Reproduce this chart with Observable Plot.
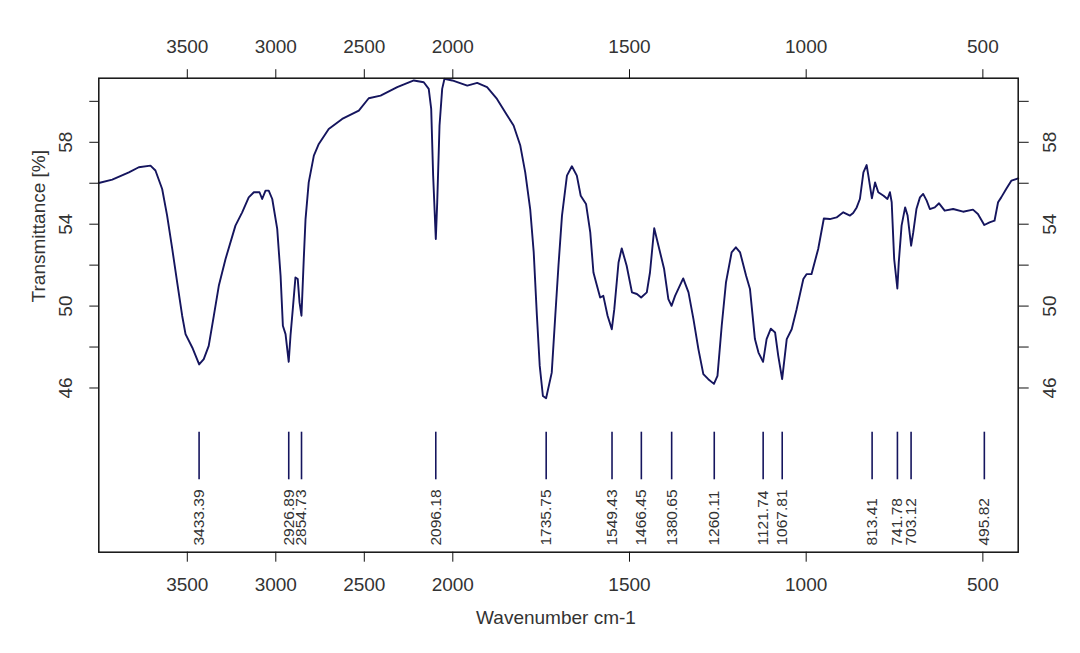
<!DOCTYPE html>
<html><head><meta charset="utf-8">
<script src="https://cdn.jsdelivr.net/npm/d3@7"></script>
<script src="https://cdn.jsdelivr.net/npm/@observablehq/plot@0.6"></script>
<style>body{margin:0;background:#fff;} svg{display:block;}</style>
</head><body><div id="chart"></div>
<script>
// Spectrum (wavenumber cm-1, transmittance %)
const wavenumber = [4000,3924,3830,3774,3708,3680,3642,3614,3585,3557,3529,3510,3472,3433,3407,3379,3350,3322,3284,3228,3190,3153,3124,3092,3077,3058,3040,3020,2992,2973,2960,2945,2927,2917,2904,2889,2876,2866,2855,2842,2832,2814,2785,2757,2701,2625,2531,2475,
  2408,2314,2220,2164,2136,2122,2111,2096,2088,2075,2060,2047,2003,1959,1931,1903,1875,1846,1828,1809,1795,1781,1771,1762,1754,1745,1736,1720,1710,1701,1691,1677,1663,1649,1638,1623,1611,1602,1592,1583,1574,1562,1550,1543,1531,1522,1508,1493,1479,1467,1451,1442,
  1430,1418,1402,1390,1381,1371,1348,1333,1319,1305,1291,1277,1261,1251,1239,1227,1211,1199,1187,1170,1159,1145,1135,1122,1112,1100,1088,1079,1068,1055,1041,1027,1008,999,985,966,950,933,914,895,876,867,857,848,838,829,824,814,805,796,781,770,763,758,751,742,738,730,720,713,703,697,688,678,669,659,650,636,624,608,584,556,528,514,496,481,467,457,448,434,419,400];
const transmittance = [56.01,56.18,56.53,56.78,56.86,56.62,55.72,54.42,52.79,51.15,49.53,48.63,47.98,47.15,47.41,48.06,49.53,50.99,52.30,53.93,54.58,55.31,55.56,55.56,55.23,55.64,55.64,55.23,53.77,51.48,49.04,48.63,47.28,48.55,49.85,51.40,51.32,50.18,49.53,52.30,54.25,56.04,57.35,57.92,58.65,59.14,59.55,60.15,
  60.28,60.69,61.02,60.93,60.61,59.63,56.37,53.28,55.07,58.82,60.61,61.10,61.02,60.77,60.90,60.69,60.12,59.31,58.82,57.84,56.53,54.74,52.62,49.53,47.08,45.61,45.50,46.75,49.53,51.97,54.42,56.37,56.83,56.37,55.39,54.99,53.60,51.64,50.99,50.42,50.50,49.53,48.87,49.85,52.13,52.82,51.97,50.67,50.59,50.42,50.67,51.64,
  53.80,52.95,51.81,50.34,50.01,50.50,51.35,50.67,49.36,47.90,46.68,46.43,46.20,46.59,49.04,51.15,52.62,52.87,52.62,51.48,50.83,48.39,47.73,47.28,48.39,48.90,48.71,47.57,46.43,48.39,48.87,49.85,51.32,51.56,51.56,52.79,54.28,54.25,54.33,54.58,54.42,54.55,54.82,55.23,56.53,56.89,56.37,55.26,56.04,55.56,55.39,55.23,55.56,55.07,52.30,50.86,52.13,53.93,54.82,54.42,52.95,53.60,54.74,55.31,55.48,55.15,54.74,54.82,55.02,54.66,54.74,54.61,54.71,54.50,53.96,54.09,54.17,55.07,55.31,55.72,56.13,56.24];

// Peak picks
const peakWavenumbers = [3433.39,2926.89,2854.73,2096.18,1735.75,1549.43,1466.45,1380.65,1260.11,1121.74,1067.81,813.41,741.78,703.12,495.82];

// Axis ticks
const xTicks = [3500,3000,2500,2000,1500,1000,500];
const yTicks = [46,48,50,52,54,56,58,60];
const yLabelTicks = [46,50,54,58];
const xTitle = "Wavenumber cm-1";
const yTitle = "Transmittance [%]";

const spectrum = wavenumber.map((w, i) => ({w, t: transmittance[i]}));
const peaks = peakWavenumbers.map(w => ({w, label: w.toFixed(2)}));

const ink = "#15155e";
const font = "'Liberation Sans', Arial, sans-serif";

const chart = Plot.plot({
  width: 1080,
  height: 653,
  marginTop: 77.7,
  marginBottom: 101.3,
  marginLeft: 98.3,
  marginRight: 62.3,
  style: {fontFamily: font, fontSize: "19px", color: "#333", background: "#fff"},
  x: {type: "linear", domain: [4000, 2000, 400], range: [98.3, 452.3, 1017.7]},
  y: {domain: [37.98, 61.13]},
  marks: [
    Plot.axisX({anchor: "top", ticks: xTicks, tickSize: 9.5, tickPadding: 15.5, tickFormat: d => String(d), label: null, stroke: "#111", fill: "#333"}),
    Plot.axisX({anchor: "bottom", ticks: xTicks, tickSize: 10, tickPadding: 15, tickFormat: d => String(d), label: null, stroke: "#111", fill: "#333"}),
    Plot.axisY({anchor: "left", ticks: yTicks, tickSize: 9, tickFormat: () => "", label: null, stroke: "#111"}),
    Plot.axisY({anchor: "right", ticks: yTicks, tickSize: 10, tickFormat: () => "", label: null, stroke: "#111"}),
    Plot.text(yLabelTicks, {y: d => d, text: d => String(d), frameAnchor: "left", dx: -32.5, rotate: -90, textAnchor: "middle", lineAnchor: "middle", fill: "#333", fontSize: 19}),
    Plot.text(yLabelTicks, {y: d => d, text: d => String(d), frameAnchor: "right", dx: 31.5, rotate: -90, textAnchor: "middle", lineAnchor: "middle", fill: "#333", fontSize: 19}),
    Plot.text([yTitle], {text: d => d, frameAnchor: "left", dx: -59.5, dy: -89, rotate: -90, textAnchor: "middle", lineAnchor: "middle", fill: "#333", fontSize: 19, letterSpacing: "1.3px"}),
    Plot.text([xTitle], {text: d => d, frameAnchor: "bottom", dx: -2.5, dy: 66, textAnchor: "middle", lineAnchor: "middle", fill: "#333", fontSize: 19}),
    Plot.ruleX(peaks, {x: "w", insetTop: 354, insetBottom: 72.4, stroke: ink, strokeWidth: 1.6}),
    Plot.text(peaks, {x: "w", text: "label", frameAnchor: "bottom", dy: -6.7, rotate: -90, textAnchor: "start", lineAnchor: "middle", fill: "#333", fontSize: 15.5}),
    Plot.line(spectrum, {x: "w", y: "t", stroke: ink, strokeWidth: 1.9, strokeLinejoin: "round"}),
    Plot.frame({stroke: "#111", strokeWidth: 1.5})
  ]
});
document.getElementById("chart").append(chart);
</script>
</body></html>
